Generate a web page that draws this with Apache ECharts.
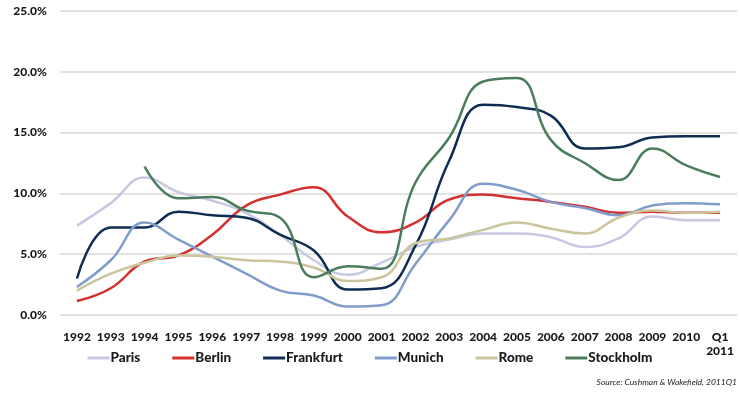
<!DOCTYPE html>
<html>
<head>
<meta charset="utf-8">
<script src="https://cdn.jsdelivr.net/npm/echarts@6/dist/echarts.min.js"></script>
<style>
  html, body { margin: 0; padding: 0; background: #fff; }
  #chart { width: 740px; height: 394px; }
</style>
</head>
<body>
<div id="chart"></div>
<script>
// Office vacancy rates by city, 1992 – Q1 2011 (%)
const years = ['1992','1993','1994','1995','1996','1997','1998','1999','2000','2001',
               '2002','2003','2004','2005','2006','2007','2008','2009','2010','Q1\n2011'];

const paris     = [7.35, 9.2, 11.3, 10.1, 9.4, 8.4, 6.6, 4.5, 3.3, 4.3, 5.6, 6.2, 6.7, 6.7, 6.4, 5.6, 6.3, 8.1, 7.8, 7.8];
const berlin    = [1.15, 2.2, 4.4, 4.9, 6.6, 9.0, 9.9, 10.5, 8.1, 6.8, 7.6, 9.5, 9.9, 9.6, 9.3, 8.9, 8.4, 8.5, 8.4, 8.4];
const frankfurt = [3.0, 7.2, 7.2, 8.5, 8.2, 8.0, 6.6, 5.3, 2.1, 2.2, 5.7, 12.7, 17.3, 17.1, 16.4, 13.7, 13.8, 14.6, 14.7, 14.7];
const munich    = [2.3, 4.5, 7.6, 6.2, 4.8, 3.4, 2.0, 1.6, 0.7, 0.8, 4.2, 7.8, 10.8, 10.3, 9.3, 8.8, 8.2, 9.0, 9.2, 9.1];
const rome      = [2.0, 3.4, 4.3, 4.9, 4.8, 4.5, 4.4, 3.9, 2.8, 3.1, 5.9, 6.3, 7.0, 7.6, 7.1, 6.7, 8.0, 8.6, 8.4, 8.5];
const stockholm = [null, null, 12.2, 9.6, 9.7, 8.6, 8.0, 3.1, 4.0, 3.8, 10.9, 14.6, 19.2, 19.5, 14.4, 12.5, 11.1, 13.7, 12.3, 11.35];

const yTicks = [0, 5, 10, 15, 20, 25];

const cities = [
  { name: 'Paris',     data: paris,     color: '#c6c9df' },
  { name: 'Berlin',    data: berlin,    color: '#d3302f' },
  { name: 'Frankfurt', data: frankfurt, color: '#0f2c52' },
  { name: 'Munich',    data: munich,    color: '#809ccb' },
  { name: 'Rome',      data: rome,      color: '#cbc59e' },
  { name: 'Stockholm', data: stockholm, color: '#4b7d5d' }
];

const font = 'Lato, "Open Sans", sans-serif';

const chart = echarts.init(document.getElementById('chart'), null, { renderer: 'canvas' });

chart.setOption({
  animation: false,
  backgroundColor: '#ffffff',
  grid: { left: 60, right: 3, top: 11, bottom: 79, containLabel: false },
  legend: {
    data: cities.map(c => c.name),
    bottom: 24,
    left: 'center',
    icon: 'rect',
    itemWidth: 22,
    itemHeight: 3,
    itemGap: 32,
    textStyle: { fontFamily: font, fontWeight: 900, fontSize: 13.5, color: '#1a1a1a', padding: [0, 0, 0, -4] }
  },
  xAxis: {
    type: 'category',
    data: years,
    boundaryGap: true,
    axisLine: { show: false },
    axisTick: { show: false },
    axisLabel: {
      interval: 0,
      margin: 15,
      fontFamily: font,
      fontWeight: 900,
      fontSize: 12,
      color: '#1a1a1a',
      lineHeight: 14,
      verticalAlign: 'top'
    }
  },
  yAxis: {
    type: 'value',
    min: yTicks[0],
    max: yTicks[yTicks.length - 1],
    interval: 5,
    axisLine: { show: false },
    axisTick: { show: false },
    axisLabel: {
      margin: 13,
      fontFamily: font,
      fontWeight: 900,
      fontSize: 12,
      color: '#1a1a1a',
      formatter: v => v.toFixed(1) + '%'
    },
    splitLine: { lineStyle: { color: '#d9d9d9', width: 1.5 } }
  },
  graphic: [{
    type: 'text',
    right: 3,
    top: 378,
    style: {
      text: 'Source: Cushman & Wakefield, 2011Q1',
      font: 'italic 8.5px ' + font,
      fill: '#222'
    }
  }],
  series: cities.map(c => ({
    name: c.name,
    type: 'line',
    data: c.data,
    smooth: 0.45,
    symbol: 'none',
    connectNulls: false,
    color: c.color,
    lineStyle: { color: c.color, width: 2.5 }
  }))
});
</script>
</body>
</html>
